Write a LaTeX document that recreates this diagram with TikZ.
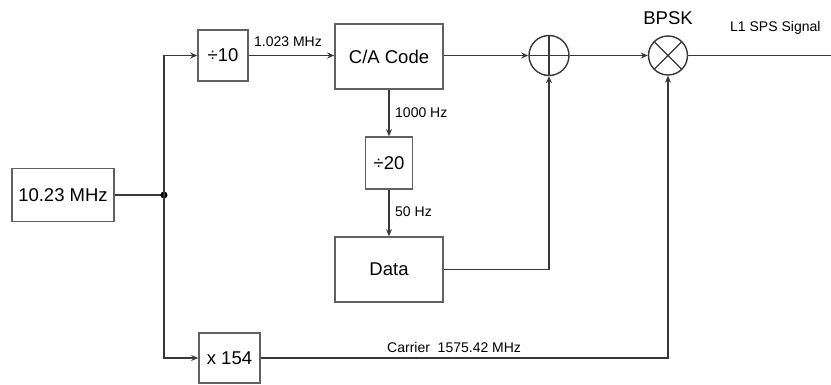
\documentclass[tikz,border=0pt]{standalone}
\usepackage{fontspec}
\setmainfont{Liberation Sans}
\usetikzlibrary{arrows.meta}
\tikzset{
  big/.style={font=\fontsize{18.5}{22}\selectfont},
  small/.style={font=\fontsize{14}{17}\selectfont},
  blk/.style={draw=black!62, line width=1.6pt, rectangle, inner sep=0pt, big, text=black},
  wire/.style={draw=black!78, line width=1.4pt},
  arr/.style={wire, -{Stealth[length=7pt,width=6pt]}},
  sumnode/.style={circle, draw=black!78, line width=1.4pt, minimum size=40pt, inner sep=0pt,
    path picture={\draw[black!78, line width=1.2pt]
      (path picture bounding box.north) -- (path picture bounding box.south)
      (path picture bounding box.west) -- (path picture bounding box.east);}},
  mulnode/.style={circle, draw=black!78, line width=1.4pt, minimum size=39pt, inner sep=0pt,
    path picture={\draw[black!78, line width=1.2pt]
      ([shift={(45:20pt)}]path picture bounding box.center) -- ([shift={(225:20pt)}]path picture bounding box.center)
      ([shift={(135:20pt)}]path picture bounding box.center) -- ([shift={(315:20pt)}]path picture bounding box.center);}},
  lbl/.style={small, text=black, inner sep=0pt}
}
\begin{document}
\begin{tikzpicture}[x=1pt, y=-1pt]
\fill[white] (0,0) rectangle (831,385);
\useasboundingbox (0,0) rectangle (831,385);

\node[blk, minimum width=102pt, minimum height=53pt] (osc) at (63,195) {10.23 MHz};
\node[blk, minimum width=50pt, minimum height=51pt] (div10) at (223,55.5) {÷10};
\node[blk, minimum width=108pt, minimum height=65pt] (ca) at (389,56.5) {C/A Code};
\node[sumnode] (plus) at (549,55.5) {};
\node[mulnode] (mult) at (668,55.5) {};
\node[blk, minimum width=47pt, minimum height=52pt] (div20) at (389,163) {÷20};
\node[blk, minimum width=108pt, minimum height=65pt] (data) at (389,269.5) {Data};
\node[blk, minimum width=61pt, minimum height=50pt] (mul154) at (229.5,358) {x 154};
\coordinate (dot) at (164,195);
\coordinate (out) at (831,55.5);

\node[big, inner sep=0pt] (bpsk) at (668,18) {BPSK};
\node[lbl, anchor=west] (l1) at (730,28) {L1 SPS Signal};
\node[lbl] (f1) at (288,42) {1.023 MHz};
\node[lbl, anchor=west] (f2) at (395,113) {1000 Hz};
\node[lbl, anchor=west] (f3) at (395,212) {50 Hz};
\node[lbl, anchor=west] (f4) at (387,347) {Carrier\ \ 1575.42 MHz};

\draw[wire] (osc.east) -- (dot);
\fill[black] (dot) circle (3.5pt);
\draw[arr] (dot) |- (div10.west);
\draw[arr] (dot) |- (mul154.west);
\draw[arr] (div10.east) -- (ca.west |- div10.east);
\draw[arr] (ca.east |- plus) -- (plus.west);
\draw[arr] (plus.east) -- (mult.west);
\draw[wire] (mult.east) -- (out);
\draw[arr] (ca.south) -- (div20.north);
\draw[arr] (div20.south) -- (data.north);
\draw[arr] (data.east) -| (plus.south);
\draw[arr] (mul154.east) -| (mult.south);
\end{tikzpicture}
\end{document}
